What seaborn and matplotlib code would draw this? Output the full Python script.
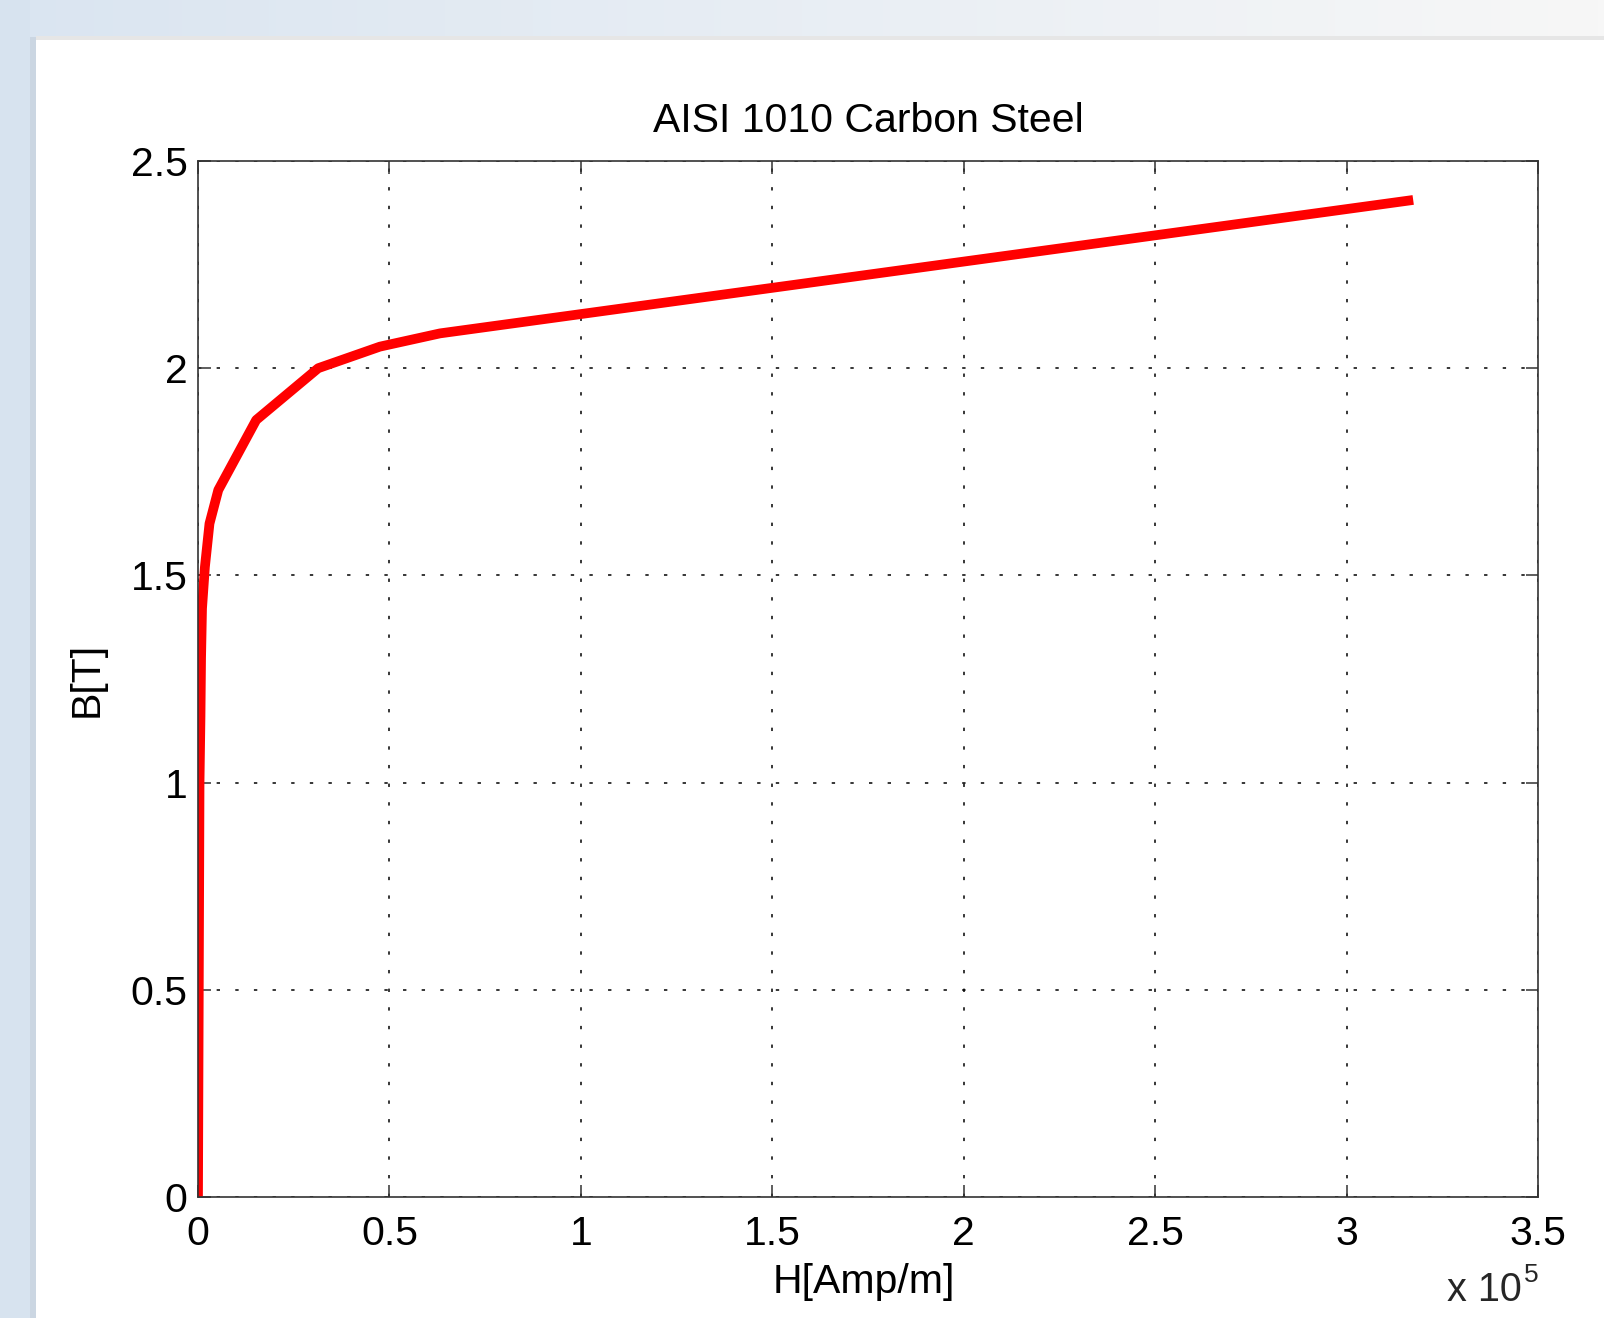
import numpy as np
import pandas as pd
import matplotlib
matplotlib.use("Agg")
import matplotlib.pyplot as plt
from matplotlib.patches import Rectangle
import seaborn as sns

# ---- data (H in units of 1e5 A/m, B in Tesla) ----
H_1e5 = [0, 0.002, 0.004, 0.0065, 0.008, 0.0105, 0.018, 0.030, 0.053, 0.152, 0.314, 0.475, 0.632, 3.174]
B_T = [0, 0.50, 1.00, 1.16, 1.30, 1.42, 1.52, 1.625, 1.706, 1.875, 2.00, 2.052, 2.084, 2.406]

x_ticks = [0, 0.5, 1, 1.5, 2, 2.5, 3, 3.5]
x_ticklabels = ["0", "0.5", "1", "1.5", "2", "2.5", "3", "3.5"]
y_ticks = [0, 0.5, 1, 1.5, 2, 2.5]
y_ticklabels = ["0", "0.5", "1", "1.5", "2", "2.5"]

title = "AISI 1010 Carbon Steel"
xlabel = "H[Amp/m]"
ylabel = "B[T]"

df = pd.DataFrame({"H": H_1e5, "B": B_T})

sns.set_style("white")
plt.rcParams["font.family"] = ["Liberation Sans", "DejaVu Sans"]
FS = 29.5

W, Hpx = 1604, 1318
fig = plt.figure(figsize=(W / 100, Hpx / 100), dpi=100)
fig.patch.set_facecolor("white")

# ---- screenshot frame background ----
bg = fig.add_axes([0, 0, 1, 1], zorder=-10)
bg.set_xlim(0, W)
bg.set_ylim(Hpx, 0)
bg.axis("off")
grad = np.linspace(0, 1, 256)
c0 = np.array([218, 229, 241]) / 255
c1 = np.array([247, 247, 247]) / 255
img = (c0[None, :] * (1 - grad[:, None]) + c1[None, :] * grad[:, None])[None, :, :]
bg.imshow(img, extent=(0, W, 37, 0), aspect="auto", zorder=0)
bg.add_patch(Rectangle((36, 36), W - 36, 4, color="#e6e6e6", lw=0, zorder=1))
bg.add_patch(Rectangle((0, 0), 30, Hpx, color="#d7e3ef", lw=0, zorder=2))
bg.add_patch(Rectangle((30, 37), 6, Hpx, color="#cbd6e2", lw=0, zorder=2))

# ---- main axes ----
L, R, T, Bm = 198, 1538, 161, 1197
ax = fig.add_axes([L / W, 1 - Bm / Hpx, (R - L) / W, (Bm - T) / Hpx])
ax.set_facecolor("white")

sns.lineplot(data=df, x="H", y="B", ax=ax, color="#ff0000", linewidth=7,
             sort=False, estimator=None)
for ln in ax.get_lines():
    ln.set_solid_capstyle("butt")
    ln.set_solid_joinstyle("round")

ax.set_xlim(0, 3.5)
ax.set_ylim(0, 2.5)
ax.set_xticks(x_ticks)
ax.set_xticklabels(x_ticklabels)
ax.set_yticks(y_ticks)
ax.set_yticklabels(y_ticklabels)

ax.grid(True, color="black", linestyle=(0, (2.2, 10)), linewidth=1.1)
ax.set_axisbelow(True)

for s in ax.spines.values():
    s.set_color("#333333")
    s.set_linewidth(1.2)
    s.set_visible(True)

ax.tick_params(axis="both", which="major", direction="in", length=9, width=1.1,
               color="#333333", labelsize=FS, labelcolor="black",
               top=True, right=True, bottom=True, left=True)
ax.tick_params(axis="x", pad=13)
ax.tick_params(axis="y", pad=7.5)

ax.set_title(title, fontsize=FS, pad=21, color="black")
ax.set_xlabel(xlabel, fontsize=FS, color="black")
ax.xaxis.label.set(va="center")
ax.xaxis.set_label_coords(0.497, -0.082)
ax.set_ylabel(ylabel, fontsize=FS, color="black")
ax.yaxis.label.set(va="center", ha="center")
ax.yaxis.set_label_coords(-0.083, 0.5)

# exponent note (x 10^5), kept inside the image
fig.text(1447 / W, 1 - 1271 / Hpx, "x 10", fontsize=FS - 1, ha="left", va="top")
fig.text(1524 / W, 1 - 1263 / Hpx, "5", fontsize=19, ha="left", va="top")

fig.savefig("out.png", dpi=100)
